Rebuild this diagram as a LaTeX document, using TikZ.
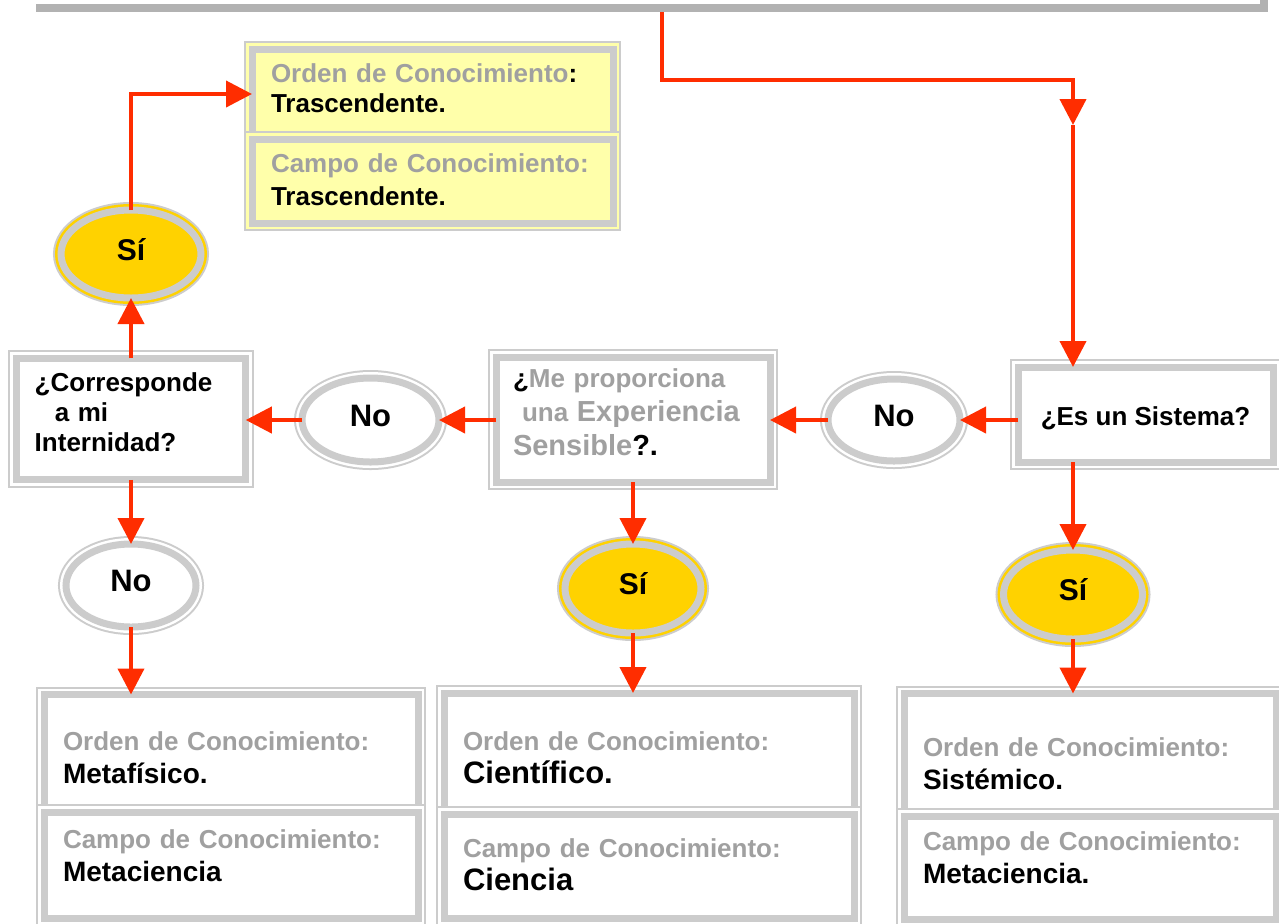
\documentclass[tikz,border=0pt]{standalone}
\usepackage{fontspec}
\setmainfont{Liberation Sans}
\usepackage{xcolor}
\usepackage{tikz}
\usetikzlibrary{arrows.meta,shapes.geometric}
\definecolor{Cr}{RGB}{255,45,0}
\definecolor{Cg}{RGB}{204,204,204}
\definecolor{Cb}{RGB}{178,178,178}
\definecolor{Ct}{RGB}{160,160,160}
\definecolor{Cy}{RGB}{255,210,0}
\definecolor{Cl}{RGB}{255,255,170}
\newcommand{\gris}[1]{\textcolor{Ct}{#1}}
\newcommand{\tam}[1]{\fontsize{#1}{16.5}\selectfont}
\tikzset{
  doble/.style={draw=Cg, line width=3.5pt, fill=#1,
    preaction={draw=Cg, line width=8pt},
    preaction={draw=#1, line width=6pt},
    inner sep=0pt, outer sep=0pt},
  caja/.style={doble=white, rectangle, align=left, text height=10pt,
    font=\bfseries\tam{13}},
  caja am/.style={doble=Cl, rectangle, align=left, text height=10pt,
    font=\bfseries\tam{13}},
  resp no/.style={doble=white, ellipse, text height=6pt, text depth=0pt,
    font=\bfseries\tam{15.5}},
  resp si/.style={doble=Cy, ellipse, text height=6pt, text depth=0pt,
    font=\bfseries\tam{15}},
  flecha/.style={draw=Cr, line width=2pt, -{Triangle[length=13pt,width=13pt]}},
  barra/.style={draw=Cb, line width=4pt}
}
\begin{document}
\begin{tikzpicture}[x=0.5pt,y=-0.5pt]
  \useasboundingbox[fill=white] (0,0) rectangle (1279,923);

  \node[caja am, minimum width=180.5pt, minimum height=45pt, text width=161.5pt,
    text depth=22pt, font=\bfseries\fontsize{13}{15}\selectfont] (traso) at (432.5,94)
    {\gris{Orden de Conocimiento}:\\ Trascendente.};
  \node[caja am, minimum width=180.5pt, minimum height=42pt, text width=161.5pt,
    text depth=19pt] (trasc) at (432.5,181)
    {\gris{Campo de Conocimiento:}\\ Trascendente.};

  \node[resp si, minimum width=70pt, minimum height=44pt] (si1) at (131,254) {Sí};

  \node[caja, minimum width=114.75pt, minimum height=60.75pt, text width=96.25pt,
    text depth=37.25pt, font=\bfseries\fontsize{13}{15}\selectfont] (int) at (131,419)
    {¿Corresponde\\ \hspace*{10pt}a mi\\ Internidad?};
  \node[resp no, minimum width=68.5pt, minimum height=42pt] (no2) at (370.5,420) {No};
  \node[caja, minimum width=137pt, minimum height=62.5pt, text width=120pt,
    text depth=42.5pt, font=\bfseries\fontsize{13}{17}\selectfont] (exp) at (633,419.5)
    {¿\gris{Me proporciona}\\ \hspace*{4.5pt}\gris{una {\tam{14.5}Experiencia}}\\
     \gris{\tam{14.5}Sensible}{\tam{14.5}?.}};
  \node[resp no, minimum width=66pt, minimum height=41pt] (no1) at (894,420) {No};
  \node[caja, align=center, minimum width=127.5pt, minimum height=47.5pt,
    text height=11pt, text depth=0pt] (sis) at (1145.5,414.5) {¿Es un Sistema?};

  \node[resp no, minimum width=65pt, minimum height=41.5pt] (no3) at (131,585.5) {No};
  \node[resp si, minimum width=68pt, minimum height=44.5pt] (si2) at (633,588.5) {Sí};
  \node[resp si, minimum width=69.5pt, minimum height=44.5pt] (si3) at (1073,594.5) {Sí};

  \node[caja, minimum width=187pt, minimum height=58.75pt, text width=168pt,
    text depth=12.5pt] (metao) at (231,753.25)
    {\gris{Orden de Conocimiento:}\\ {\tam{14}Metafísico.}};
  \node[caja, minimum width=187pt, minimum height=53.25pt, text width=168pt,
    text depth=27.25pt] (metac) at (231,865.25)
    {\gris{Campo de Conocimiento:}\\ {\tam{14}Metaciencia}};
  \node[caja, minimum width=205pt, minimum height=60.5pt, text width=186pt,
    text depth=13.5pt] (cieno) at (649,753.5)
    {\gris{Orden de Conocimiento:}\\ {\tam{15.5}Científico.}};
  \node[caja, minimum width=205pt, minimum height=52.25pt, text width=186pt,
    text depth=19.25pt] (cienc) at (649,866.25)
    {\gris{Campo de Conocimiento:}\\ {\tam{15.5}Ciencia}};
  \node[caja, minimum width=186pt, minimum height=61.25pt, text width=167pt,
    text depth=8.75pt] (sisto) at (1090,754.75)
    {\gris{Orden de Conocimiento:}\\ {\tam{14}Sistémico.}};
  \node[caja, minimum width=186pt, minimum height=51.5pt, text width=167pt,
    text depth=27.5pt] (sistc) at (1090,867.5)
    {\gris{Campo de Conocimiento:}\\ {\tam{14}Metaciencia.}};

  \coordinate (inicio) at (662,12);
  \coordinate (codo) at (1073,125);
  \draw[flecha] (inicio) -- ++(0,68) -| (codo);
  \draw[flecha] (codo) -- (codo |- sis.north);
  \draw[barra] (36,8) -- (1264,8) -- (1264,-10);

  \draw[flecha] (sis.west |- no1) -- (no1);
  \draw[flecha] (no1) -- (no1 -| exp.east);
  \draw[flecha] (exp.west |- no2) -- (no2);
  \draw[flecha] (no2) -- (no2 -| int.east);
  \draw[flecha] (int) -- (si1);
  \draw[flecha] (si1) |- (traso);
  \draw[flecha] (int) -- (no3);
  \draw[flecha] (no3) -- (no3 |- metao.north);
  \draw[flecha] (exp) -- (si2);
  \draw[flecha] (si2) -- (si2 |- cieno.north);
  \draw[flecha] (sis.south -| si3) -- (si3);
  \draw[flecha] (si3) -- (si3 |- sisto.north);
\end{tikzpicture}
\end{document}
